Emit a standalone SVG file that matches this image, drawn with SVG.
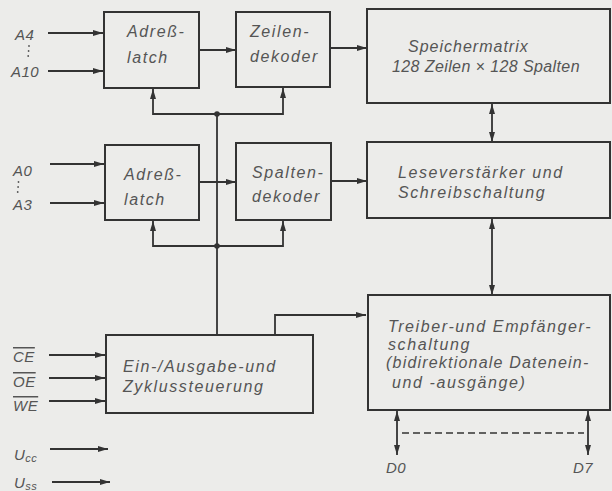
<svg xmlns="http://www.w3.org/2000/svg" width="612" height="491" viewBox="0 0 612 491">
<defs>
<style>
.box{fill:none;stroke:#333;stroke-width:2}
.ln{fill:none;stroke:#333;stroke-width:1.8}
.t{font-family:"Liberation Sans",Arial,sans-serif;font-style:italic;font-size:16px;fill:#555;letter-spacing:1.6px}
.l{font-size:15px;letter-spacing:0.5px}
.s{font-size:11px;letter-spacing:0.5px}
</style>
<marker id="ah" viewBox="0 0 10 6" refX="10" refY="3" markerWidth="10" markerHeight="6" markerUnits="userSpaceOnUse" orient="auto-start-reverse">
<path d="M0,0 L10,3 L0,6 Z" fill="#333"/>
</marker>
</defs>
<rect width="612" height="491" fill="#ececea"/>

<g id="connectors">
<line class="ln" x1="48" y1="33" x2="103" y2="33" marker-end="url(#ah)"/>
<line class="ln" x1="48" y1="71" x2="103" y2="71" marker-end="url(#ah)"/>
<line class="ln" x1="199" y1="50" x2="236" y2="50" marker-end="url(#ah)"/>
<line class="ln" x1="330" y1="48" x2="367" y2="48" marker-end="url(#ah)"/>
<polyline class="ln" points="153,89 153,114 283,114 283,88" marker-start="url(#ah)" marker-end="url(#ah)"/>
<circle cx="217" cy="114" r="2.8" fill="#333"/>
<line class="ln" x1="217" y1="114" x2="217" y2="335"/>
<line class="ln" x1="50" y1="164" x2="104" y2="164" marker-end="url(#ah)"/>
<line class="ln" x1="50" y1="203" x2="104" y2="203" marker-end="url(#ah)"/>
<line class="ln" x1="199" y1="182" x2="236" y2="182" marker-end="url(#ah)"/>
<line class="ln" x1="331" y1="181" x2="367" y2="181" marker-end="url(#ah)"/>
<polyline class="ln" points="153,221 153,246 283,246 283,221" marker-start="url(#ah)" marker-end="url(#ah)"/>
<circle cx="217" cy="246" r="2.8" fill="#333"/>
<line class="ln" x1="492" y1="104" x2="492" y2="142" marker-start="url(#ah)" marker-end="url(#ah)"/>
<line class="ln" x1="492" y1="219" x2="492" y2="295" marker-start="url(#ah)" marker-end="url(#ah)"/>
<polyline class="ln" points="275,335 275,315 366,315" marker-end="url(#ah)"/>
<line class="ln" x1="49" y1="355" x2="105" y2="355" marker-end="url(#ah)"/>
<line class="ln" x1="49" y1="378" x2="105" y2="378" marker-end="url(#ah)"/>
<line class="ln" x1="49" y1="401" x2="105" y2="401" marker-end="url(#ah)"/>
<line class="ln" x1="50" y1="449" x2="108" y2="449" marker-end="url(#ah)"/>
<line class="ln" x1="52" y1="482" x2="110" y2="482" marker-end="url(#ah)"/>
<line class="ln" x1="397" y1="411" x2="397" y2="455" marker-start="url(#ah)" marker-end="url(#ah)"/>
<line class="ln" x1="588" y1="411" x2="588" y2="455" marker-start="url(#ah)" marker-end="url(#ah)"/>
<line x1="402" y1="433" x2="584" y2="433" stroke="#333" stroke-width="1.6" stroke-dasharray="7,4"/>
</g>

<g id="adresslatch1">
<rect class="box" x="104" y="12" width="95" height="76"/>
<text class="t" x="127" y="37">Adreß-</text>
<text class="t" x="127" y="63">latch</text>
</g>
<g id="zeilendekoder">
<rect class="box" x="236" y="12" width="94" height="75"/>
<text class="t" x="250" y="37">Zeilen-</text>
<text class="t" x="250" y="62">dekoder</text>
</g>
<g id="speichermatrix">
<rect class="box" x="367" y="9" width="243" height="94"/>
<text class="t" x="408" y="52" style="letter-spacing:1px">Speichermatrix</text>
<text class="t" x="392" y="72" style="letter-spacing:0.4px">128 Zeilen × 128 Spalten</text>
</g>
<g id="adresslatch2">
<rect class="box" x="105" y="145" width="94" height="75"/>
<text class="t" x="124" y="180">Adreß-</text>
<text class="t" x="124" y="205">latch</text>
</g>
<g id="spaltendekoder">
<rect class="box" x="236" y="143" width="95" height="77"/>
<text class="t" x="252" y="178">Spalten-</text>
<text class="t" x="252" y="202">dekoder</text>
</g>
<g id="leseverstaerker">
<rect class="box" x="367" y="142" width="243" height="76"/>
<text class="t" x="398" y="178">Leseverstärker und</text>
<text class="t" x="398" y="198">Schreibschaltung</text>
</g>
<g id="treiber">
<rect class="box" x="368" y="295" width="242" height="115"/>
<text class="t" x="388" y="332">Treiber-und Empfänger-</text>
<text class="t" x="388" y="350">schaltung</text>
<text class="t" x="386" y="368" style="letter-spacing:1.2px">(bidirektionale Datenein-</text>
<text class="t" x="392" y="388">und -ausgänge)</text>
</g>
<g id="steuerung">
<rect class="box" x="106" y="335" width="207" height="78"/>
<text class="t" x="123" y="372">Ein-/Ausgabe-und</text>
<text class="t" x="123" y="392">Zyklussteuerung</text>
</g>

<g id="labels">
<text class="t l" x="15" y="40">A4</text>
<text class="t l" x="11" y="77">A10</text>
<circle cx="29" cy="46" r="0.9" fill="#555"/>
<circle cx="28.6" cy="51" r="0.9" fill="#555"/>
<circle cx="28.2" cy="56" r="0.9" fill="#555"/>
<text class="t l" x="13" y="176">A0</text>
<text class="t l" x="13" y="210">A3</text>
<circle cx="18.5" cy="182" r="0.9" fill="#555"/>
<circle cx="18.1" cy="187" r="0.9" fill="#555"/>
<circle cx="17.7" cy="192" r="0.9" fill="#555"/>
<text class="t l" x="13" y="362" text-decoration="overline">CE</text>
<text class="t l" x="13" y="387" text-decoration="overline">OE</text>
<text class="t l" x="13" y="411" text-decoration="overline">WE</text>
<text class="t l" x="14" y="460">U<tspan class="s" dy="2">cc</tspan></text>
<text class="t l" x="14" y="488">U<tspan class="s" dy="2">ss</tspan></text>
<text class="t l" x="386" y="473">D0</text>
<text class="t l" x="573" y="473">D7</text>
</g>
</svg>
